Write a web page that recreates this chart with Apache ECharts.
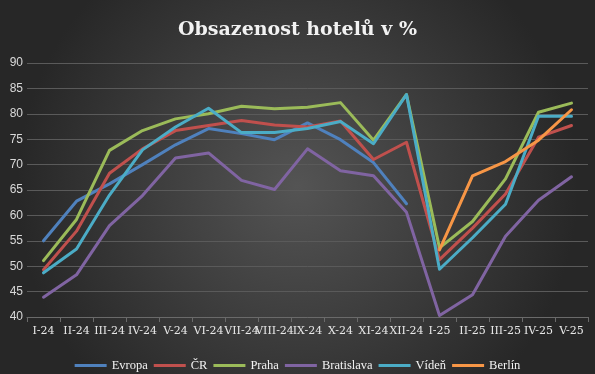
<!DOCTYPE html>
<html>
<head>
<meta charset="utf-8">
<script src="https://cdn.jsdelivr.net/npm/echarts@6/dist/echarts.min.js"></script>
<style>html,body{margin:0;padding:0;background:#2b2b2b}#c{width:595px;height:374px}</style>
</head>
<body>
<div id="c"></div>
<script>
const categories = ['I-24','II-24','III-24','IV-24','V-24','VI-24','VII-24','VIII-24','IX-24','X-24','XI-24','XII-24','I-25','II-25','III-25','IV-25','V-25'];
const evropa = [55.0,62.8,66.2,70.0,73.9,77.1,76.1,74.9,78.2,74.9,70.4,62.3,null,null,null,null,null];
const cr = [49.3,56.9,68.3,73.1,76.7,77.7,78.7,77.8,77.4,78.6,71.0,74.4,51.3,57.5,64.2,75.4,77.7];
const praha = [51.1,59.2,72.8,76.7,79.0,80.0,81.5,81.0,81.3,82.2,74.8,83.8,53.6,58.8,67.2,80.3,82.1];
const bratislava = [43.9,48.3,58.0,63.9,71.3,72.3,66.9,65.1,73.1,68.8,67.8,60.6,40.3,44.4,55.9,63.0,67.6];
const viden = [48.7,53.4,64.0,72.9,77.4,81.1,76.3,76.3,77.1,78.5,74.1,83.8,49.4,55.6,62.2,79.5,79.5];
const berlin = [null,null,null,null,null,null,null,null,null,null,null,null,53.2,67.8,70.6,74.8,80.8];
const seriesNames = ['Evropa','ČR','Praha','Bratislava','Vídeň','Berlín'];
const seriesData = [evropa, cr, praha, bratislava, viden, berlin];
const colors = ['#4F81BD','#C0504D','#9BBB59','#8064A2','#4BACC6','#F79646'];

const chart = echarts.init(document.getElementById('c'), null, {renderer:'canvas'});
chart.setOption({
  animation:false,
  backgroundColor:{type:'radial',x:0.5,y:0.5,r:0.75,colorStops:[{offset:0,color:'#545454'},{offset:1,color:'#272727'}]},
  color:colors,
  title:{text:'Obsazenost hotelů v %',left:'center',top:16,
    textStyle:{color:'#f2f2f2',fontFamily:'DejaVu Serif',fontWeight:'bold',fontSize:19}},
  legend:{top:354,left:'center',itemWidth:32,itemHeight:3,itemGap:6,icon:'rect',
    textStyle:{color:'#f2f2f2',fontFamily:'Liberation Serif',fontSize:12.5},
    data:seriesNames},
  grid:{left:27,right:7,top:63,bottom:57,containLabel:false},
  xAxis:{type:'category',data:categories,boundaryGap:true,
    axisLine:{lineStyle:{color:'#6a6a6a',width:1}},
    axisTick:{show:true,alignWithLabel:false,length:5,lineStyle:{color:'#6a6a6a'}},
    axisLabel:{color:'#e8e8e8',fontFamily:'DejaVu Serif',fontSize:11,margin:9,interval:0}},
  yAxis:{type:'value',min:40,max:90,interval:5,
    axisLine:{show:false},axisTick:{show:false},
    splitLine:{lineStyle:{color:'#5a5a5a',width:1}},
    axisLabel:{color:'#d9d9d9',fontFamily:'Liberation Sans',fontSize:12,margin:4}},
  series:seriesData.map((d,i)=>({name:seriesNames[i],type:'line',data:d,showSymbol:false,symbol:'none',
    connectNulls:false,lineStyle:{width:3,color:colors[i],cap:'round',join:'round'},itemStyle:{color:colors[i]}}))
});
</script>
</body>
</html>
